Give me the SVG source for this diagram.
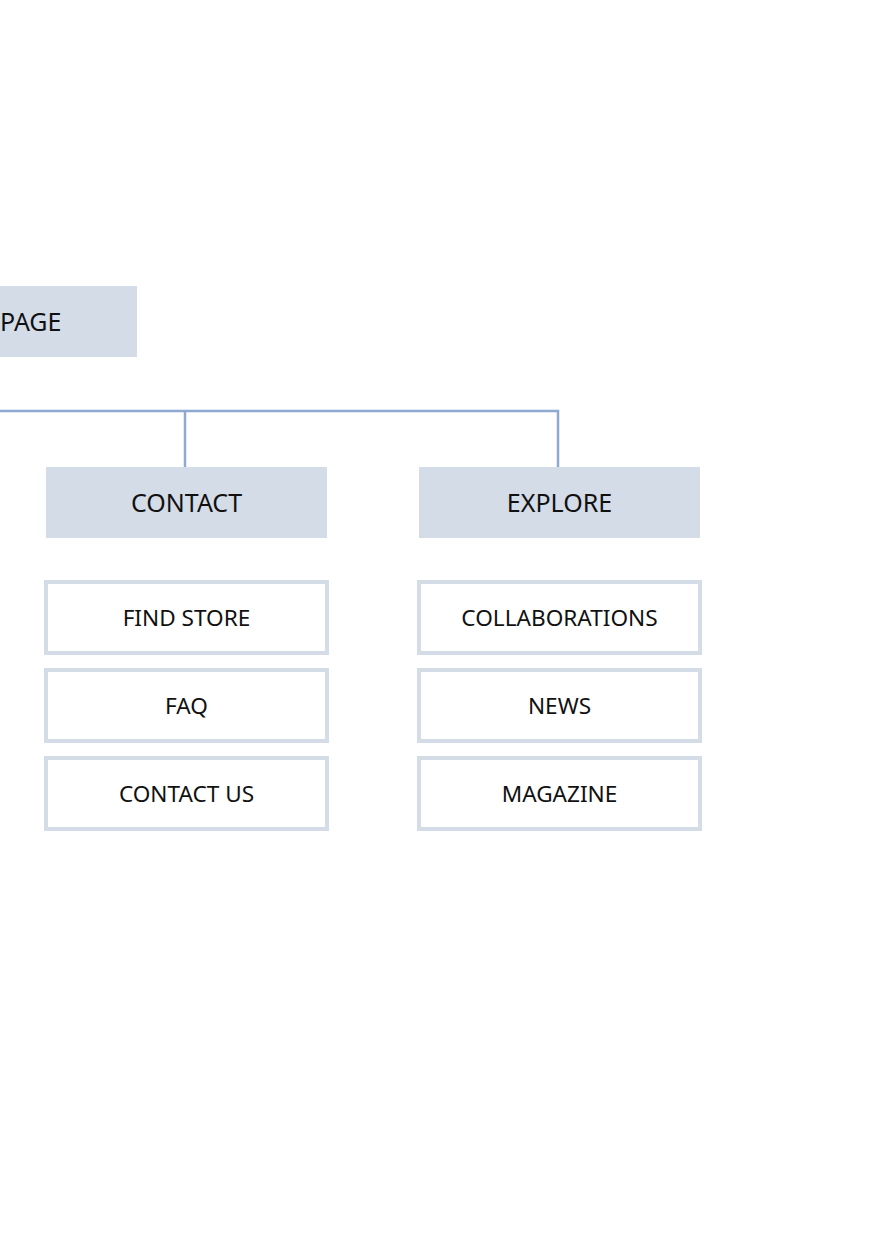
<svg xmlns="http://www.w3.org/2000/svg" width="877" height="1240" viewBox="0 0 877 1240">
<style>
.hdr{fill:#d4dce8;}
.child{fill:#ffffff;stroke:#d4dce8;stroke-width:4;}
.lbl{font-family:"Noto Sans","Open Sans",sans-serif;font-size:25px;fill:#111111;text-anchor:middle;}
.lbl2{font-family:"Noto Sans","Open Sans",sans-serif;font-size:22.6px;fill:#111111;text-anchor:middle;}
.conn{fill:none;stroke:#8eaad1;stroke-width:2.5;}
</style>
<rect width="877" height="1240" fill="#ffffff"/>
<g id="connectors">
<path class="conn" d="M0 411 H558 V467"/>
<path class="conn" d="M185 411 V467"/>
</g>
<g id="page">
<rect class="hdr" x="-144" y="286" width="281" height="71"/>
<text class="lbl" x="0" y="331" style="text-anchor:start">PAGE</text>
</g>
<g id="contact">
<rect class="hdr" x="46" y="467" width="281" height="71"/>
<text class="lbl" x="186.5" y="512">CONTACT</text>
</g>
<g id="explore">
<rect class="hdr" x="419" y="467" width="281" height="71"/>
<text class="lbl" x="559.5" y="512">EXPLORE</text>
</g>
<g id="find-store">
<rect class="child" x="46" y="582" width="281" height="71"/>
<text class="lbl2" x="186.5" y="626">FIND STORE</text>
</g>
<g id="faq">
<rect class="child" x="46" y="670" width="281" height="71"/>
<text class="lbl2" x="186.5" y="714">FAQ</text>
</g>
<g id="contact-us">
<rect class="child" x="46" y="758" width="281" height="71"/>
<text class="lbl2" x="186.5" y="802">CONTACT US</text>
</g>
<g id="collaborations">
<rect class="child" x="419" y="582" width="281" height="71"/>
<text class="lbl2" x="559.5" y="626">COLLABORATIONS</text>
</g>
<g id="news">
<rect class="child" x="419" y="670" width="281" height="71"/>
<text class="lbl2" x="559.5" y="714">NEWS</text>
</g>
<g id="magazine">
<rect class="child" x="419" y="758" width="281" height="71"/>
<text class="lbl2" x="559.5" y="802">MAGAZINE</text>
</g>
</svg>
